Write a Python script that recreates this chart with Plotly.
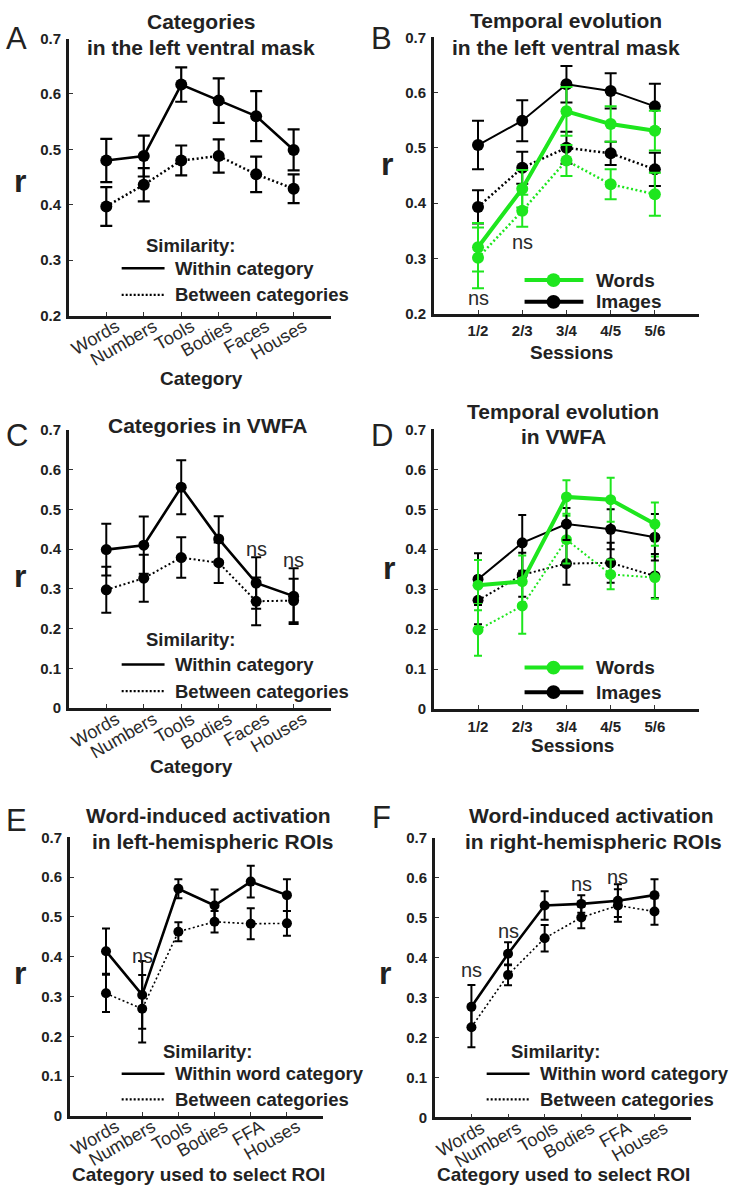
import plotly.graph_objects as go

W, H = 732, 1199
FONT = "Liberation Sans, Arial, sans-serif"
TXT = "#222222"
GREEN = "#1ee61e"

# ---------------- data ----------------
cats_A = ["Words", "Numbers", "Tools", "Bodies", "Faces", "Houses"]
A_within = [0.480, 0.488, 0.617, 0.588, 0.560, 0.499]
A_within_err = [0.039, 0.037, 0.031, 0.040, 0.045, 0.037]
A_between = [0.397, 0.436, 0.480, 0.488, 0.455, 0.429]
A_between_err = [0.035, 0.030, 0.027, 0.030, 0.032, 0.026]

sessions = ["1/2", "2/3", "3/4", "4/5", "5/6"]
B_img_within = [0.505, 0.549, 0.615, 0.603, 0.575]
B_img_within_err = [0.044, 0.037, 0.033, 0.032, 0.041]
B_word_within = [0.320, 0.426, 0.566, 0.543, 0.531]
B_word_within_err = [0.044, 0.034, 0.044, 0.032, 0.036]
B_img_between = [0.393, 0.464, 0.500, 0.490, 0.461]
B_img_between_err = [0.030, 0.029, 0.029, 0.021, 0.030]
B_word_between = [0.301, 0.386, 0.477, 0.434, 0.416]
B_word_between_err = [0.055, 0.029, 0.028, 0.027, 0.039]

C_within = [0.399, 0.410, 0.556, 0.426, 0.315, 0.282]
C_within_err = [0.065, 0.072, 0.068, 0.057, 0.065, 0.070]
C_between = [0.298, 0.327, 0.379, 0.366, 0.269, 0.271]
C_between_err = [0.058, 0.059, 0.051, 0.051, 0.060, 0.055]

D_word_within = [0.310, 0.319, 0.531, 0.524, 0.463]
D_word_within_err = [0.063, 0.065, 0.042, 0.055, 0.054]
D_img_within = [0.325, 0.416, 0.463, 0.450, 0.430]
D_img_within_err = [0.065, 0.070, 0.040, 0.050, 0.058]
D_img_between = [0.272, 0.336, 0.364, 0.366, 0.333]
D_img_between_err = [0.060, 0.055, 0.053, 0.050, 0.055]
D_word_between = [0.198, 0.258, 0.424, 0.337, 0.329]
D_word_between_err = [0.065, 0.070, 0.060, 0.037, 0.053]

cats_E = ["Words", "Numbers", "Tools", "Bodies", "FFA", "Houses"]
E_within = [0.414, 0.304, 0.571, 0.529, 0.589, 0.555]
E_within_err = [0.057, 0.085, 0.024, 0.040, 0.040, 0.040]
E_between = [0.308, 0.269, 0.463, 0.488, 0.483, 0.484]
E_between_err = [0.047, 0.085, 0.024, 0.027, 0.039, 0.031]

F_within = [0.277, 0.410, 0.531, 0.535, 0.543, 0.557]
F_within_err = [0.055, 0.029, 0.036, 0.022, 0.041, 0.040]
F_between = [0.226, 0.357, 0.449, 0.501, 0.531, 0.516]
F_between_err = [0.050, 0.026, 0.033, 0.027, 0.041, 0.033]

ticks_AB = [0.2, 0.3, 0.4, 0.5, 0.6, 0.7]
ticktext_AB = ["0.2", "0.3", "0.4", "0.5", "0.6", "0.7"]
ticks_CF = [0, 0.1, 0.2, 0.3, 0.4, 0.5, 0.6, 0.7]
ticktext_CF = ["0", "0.1", "0.2", "0.3", "0.4", "0.5", "0.6", "0.7"]

ns_marks = {
    2: [("1/2", 0.229), ("2/3", 0.330)],
    3: [("Faces", 0.401), ("Houses", 0.374)],
    5: [("Numbers", 0.403)],
    6: [("Words", 0.370), ("Numbers", 0.467), ("Bodies", 0.584), ("FFA", 0.602)],
}

# ---------------- helpers ----------------
def px(x):
    return x / W


def py(y):
    return 1 - y / H


fig = go.Figure()


def add_series(i, x, y, err, color, lw, dash, msize, ew, ethick):
    fig.add_trace(go.Scatter(
        x=x, y=y, mode="lines+markers",
        line=dict(color=color, width=lw, dash=dash),
        marker=dict(color=color, size=msize, symbol="circle"),
        error_y=dict(type="data", array=err, color=color, thickness=ethick, width=ew, visible=True),
        xaxis="x" if i == 1 else f"x{i}", yaxis="y" if i == 1 else f"y{i}",
        showlegend=False, hoverinfo="skip",
    ))


DOT = "2px,2.5px"
# A
add_series(1, cats_A, A_between, A_between_err, "black", 2.5, DOT, 12, 6, 2.2)
add_series(1, cats_A, A_within, A_within_err, "black", 2.6, "solid", 12, 6, 2.2)
# B
add_series(2, sessions, B_img_between, B_img_between_err, "black", 2.5, DOT, 12, 6, 2)
add_series(2, sessions, B_word_between, B_word_between_err, GREEN, 2.5, DOT, 12, 6, 2)
add_series(2, sessions, B_img_within, B_img_within_err, "black", 2, "solid", 12, 6, 2)
add_series(2, sessions, B_word_within, B_word_within_err, GREEN, 4, "solid", 12, 6, 2)
# C
add_series(3, cats_A, C_between, C_between_err, "black", 2, DOT, 11, 5, 2)
add_series(3, cats_A, C_within, C_within_err, "black", 2.6, "solid", 11, 5, 2)
# D
add_series(4, sessions, D_img_between, D_img_between_err, "black", 2, DOT, 11, 4, 2)
add_series(4, sessions, D_word_between, D_word_between_err, GREEN, 2, DOT, 11, 4, 2)
add_series(4, sessions, D_img_within, D_img_within_err, "black", 2, "solid", 11, 4, 2)
add_series(4, sessions, D_word_within, D_word_within_err, GREEN, 4, "solid", 11, 4, 2)
# E
add_series(5, cats_E, E_between, E_between_err, "black", 1.6, DOT, 10, 4, 2)
add_series(5, cats_E, E_within, E_within_err, "black", 2.6, "solid", 10, 4, 2)
# F
add_series(6, cats_E, F_between, F_between_err, "black", 1.6, DOT, 10, 4, 2)
add_series(6, cats_E, F_within, F_within_err, "black", 2.6, "solid", 10, 4, 2)

# ---------------- axes ----------------
panels = {
    1: dict(x=(67, 330), y=(30, 311), yr=(0.2, 0.7), tv=ticks_AB, tt=ticktext_AB, xr=(-1, 6), rot=True),
    2: dict(x=(433, 699), y=(28.7, 309), yr=(0.2, 0.7), tv=ticks_AB, tt=ticktext_AB, xr=(-1, 5), rot=False),
    3: dict(x=(67, 330), y=(427, 709.3), yr=(0, 0.7), tv=ticks_CF, tt=ticktext_CF, xr=(-1, 6), rot=True),
    4: dict(x=(433, 699), y=(426.5, 710), yr=(0, 0.7), tv=ticks_CF, tt=ticktext_CF, xr=(-1, 5), rot=False),
    5: dict(x=(68, 322), y=(840.4, 1122.7), yr=(0, 0.7), tv=ticks_CF, tt=ticktext_CF, xr=(-1, 6), rot=True),
    6: dict(x=(434, 691), y=(841, 1124.3), yr=(0, 0.7), tv=ticks_CF, tt=ticktext_CF, xr=(-1, 6), rot=True),
}

layout = dict(
    width=W, height=H, autosize=False,
    margin=dict(l=0, r=0, t=0, b=0),
    paper_bgcolor="white", plot_bgcolor="white",
    font=dict(family=FONT, color=TXT),
    showlegend=False,
)
for i, p in panels.items():
    xs = "" if i == 1 else str(i)
    xa = dict(
        domain=[px(p["x"][0]), px(p["x"][1])], anchor=f"y{xs}", type="category",
        range=list(p["xr"]), showline=True, linecolor="#1a1a1a", linewidth=2.5,
        ticks="inside", ticklen=4, tickwidth=1.2, tickcolor="#333",
        showgrid=False, zeroline=False, fixedrange=True,
    )
    if p["rot"]:
        xa.update(tickangle=-30, tickfont=dict(size=18, family=FONT, color="#2a2a2a"),
                  ticklabelshift=10, ticklabelstandoff=-9)
    else:
        xa.update(tickangle=0, tickfont=dict(size=15, family=FONT, color=TXT, weight="bold"),
                  ticklabelstandoff=2)
    ya = dict(
        domain=[py(p["y"][1]), py(p["y"][0])], anchor=f"x{xs}",
        range=list(p["yr"]), tickvals=p["tv"], ticktext=p["tt"],
        showline=True, linecolor="#1a1a1a", linewidth=2.5,
        ticks="inside", ticklen=4, tickwidth=1.2, tickcolor="#333",
        tickfont=dict(size=15, family=FONT, color=TXT, weight="bold"),
        showgrid=False, zeroline=False, fixedrange=True, ticklabelstandoff=2,
    )
    layout[f"xaxis{xs}"] = xa
    layout[f"yaxis{xs}"] = ya
fig.update_layout(**layout)

# ---------------- text ----------------
ann = []


def text(x, y, s, size, bold=True, xanchor="center", color=TXT):
    ann.append(dict(
        x=px(x), y=py(y), xref="paper", yref="paper", text=s, showarrow=False,
        xanchor=xanchor, yanchor="middle", borderpad=0,
        font=dict(size=size, family=FONT, color=color, weight="bold" if bold else "normal"),
    ))


# panel letters
for letter, (x, y) in {"A": (15, 30), "B": (381, 30), "C": (15, 433), "D": (381, 433),
                       "E": (15, 823), "F": (381, 820)}.items():
    text(x, y, letter, 31, bold=False)

# titles
text(200, 13, "Categories", 21)
text(200, 39, "in the left ventral mask", 21)
text(566, 12, "Temporal evolution", 21)
text(566, 39, "in the left ventral mask", 21)
text(207, 422, "Categories in VWFA", 21)
text(563, 408, "Temporal evolution", 21)
text(563, 434, "in VWFA", 21)
text(207, 818, "Word-induced activation", 21)
text(212, 844, "in left-hemispheric ROIs", 21)
text(591, 818, "Word-induced activation", 21)
text(593, 844, "in right-hemispheric ROIs", 21)

# y titles
for x, y in [(18, 174), (386, 157), (18, 575), (388, 567), (18, 978), (384, 978)]:
    text(x, y, "r", 32)

# x titles
text(200, 375, "Category", 19)
text(571, 348, "Sessions", 19)
text(190, 768, "Category", 19)
text(572, 747, "Sessions", 19)
text(197, 1182, "Category used to select ROI", 19)
text(563, 1182, "Category used to select ROI", 19)

# ns annotations (data coords)
for i, items in ns_marks.items():
    for cx, cy in items:
        ann.append(dict(x=cx, y=cy, xref=f"x{i}", yref=f"y{i}", text="ns", showarrow=False,
                        xanchor="center", yanchor="middle",
                        font=dict(size=20, family=FONT, color="#2a2a2a")))

shapes = []


def legline(x0, x1, y, color, width, dash):
    shapes.append(dict(type="line", xref="paper", yref="paper", x0=px(x0), x1=px(x1), y0=py(y), y1=py(y),
                       line=dict(color=color, width=width, dash=dash)))


def legdot(x, y, color, r=7):
    shapes.append(dict(type="circle", xref="paper", yref="paper", x0=px(x - r), x1=px(x + r),
                       y0=py(y + r), y1=py(y - r), fillcolor=color, line=dict(color=color, width=0)))


# similarity legends (A, C, E, F)
sim_legends = [
    (189, 240, 120, 163, 172, 263, 290, "Within category"),
    (189, 640, 120, 163, 172, 665, 692, "Within category"),
    (206, 1057, 120, 163, 172, 1080, 1106, "Within word category"),
    (555, 1057, 486, 529, 538, 1080, 1106, "Within word category"),
]
for cx, cy, l0, l1, tx, y1, y2, lab in sim_legends:
    text(cx, cy, "Similarity:", 18.5)
    legline(l0, l1, y1, "black", 2.6, "solid")
    legline(l0, l1, y2, "black", 2.2, "2px,2px")
    text(tx, y1, lab, 18.5, xanchor="left")
    text(tx, y2, "Between categories", 18.5, xanchor="left")

# Words / Images legends (B, D)
for yw, yi in [(275, 297), (668, 693)]:
    legline(524, 583, yw, GREEN, 4, "solid")
    legdot(553, yw, GREEN)
    legline(524, 583, yi, "black", 4, "solid")
    legdot(553, yi, "black")
    text(595, yw, "Words", 19, xanchor="left")
    text(595, yi, "Images", 19, xanchor="left")

fig.update_layout(annotations=ann, shapes=shapes)
fig.write_html(
    "out.html",
    config={"displayModeBar": False},
    post_script="document.body.style.margin='0px';document.body.style.overflow='hidden';",
)
